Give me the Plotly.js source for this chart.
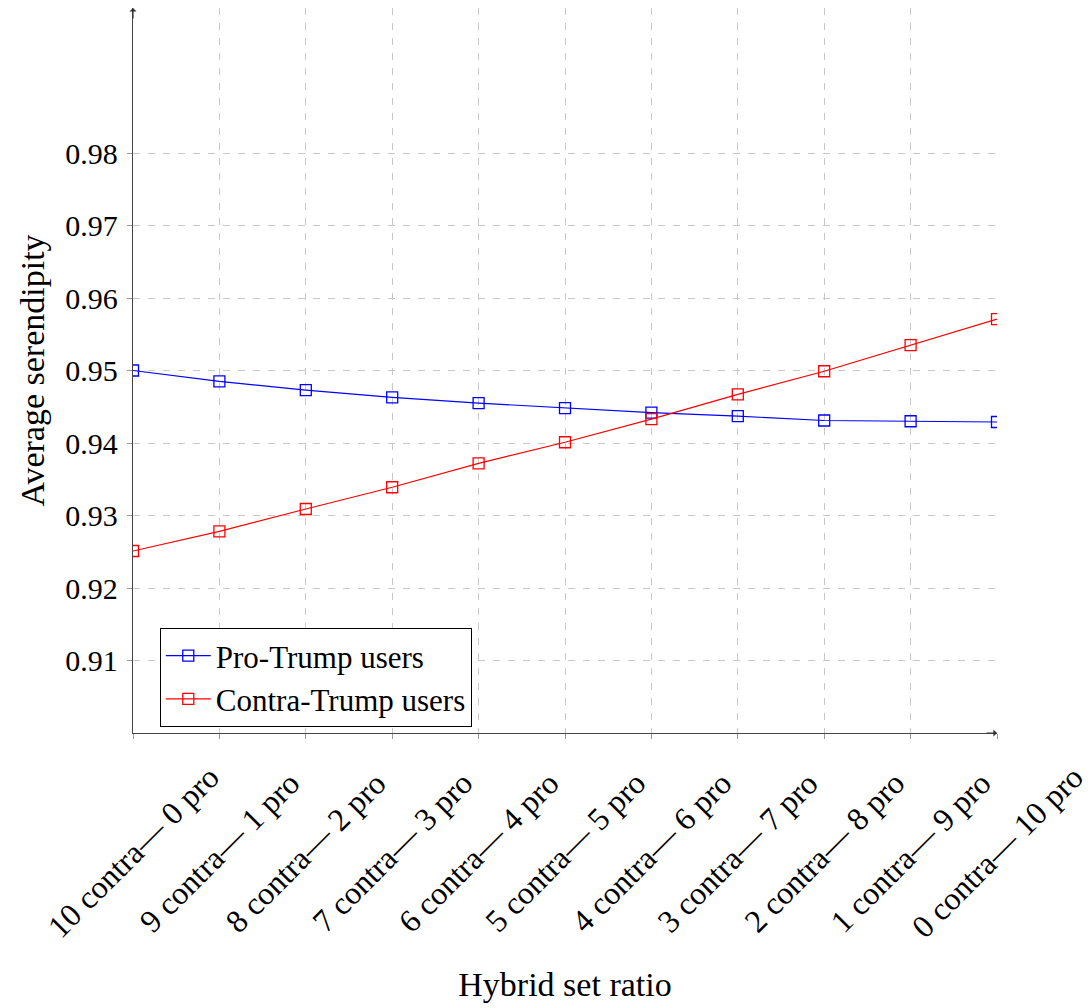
<!DOCTYPE html>
<html>
<head>
<meta charset="utf-8">
<script src="https://cdn.plot.ly/plotly-3.0.1.min.js"></script>
<style>html,body{margin:0;padding:0;background:#fff;}#chart{width:1091px;height:1008px;}</style>
</head>
<body>
<div id="chart"></div>
<script>
const categories = ["10 contra\u2014 0 pro","9 contra\u2014 1 pro","8 contra\u2014 2 pro","7 contra\u2014 3 pro","6 contra\u2014 4 pro","5 contra\u2014 5 pro","4 contra\u2014 6 pro","3 contra\u2014 7 pro","2 contra\u2014 8 pro","1 contra\u2014 9 pro","0 contra\u2014 10 pro"];
const proTrump = [0.9500, 0.9485, 0.9473, 0.9463, 0.9455, 0.9448, 0.9442, 0.9437, 0.9431, 0.9430, 0.9429];
const contraTrump = [0.9251, 0.9278, 0.9309, 0.9339, 0.9372, 0.9401, 0.9433, 0.9467, 0.9499, 0.9535, 0.9571];
const yTicks = [0.91, 0.92, 0.93, 0.94, 0.95, 0.96, 0.97, 0.98];
const yTickText = ["0.91","0.92","0.93","0.94","0.95","0.96","0.97","0.98"];

const FONT = "Liberation Serif, Times New Roman, serif";
const idx = categories.map((c, i) => i);

const traces = [
  {x: idx, y: proTrump, name: "Pro-Trump users", type: "scatter", mode: "lines+markers",
   line: {color: "#0000ff", width: 1.2}, marker: {symbol: "square-open", size: 11, color: "#0000ff", line: {width: 1.3}}},
  {x: idx, y: contraTrump, name: "Contra-Trump users", type: "scatter", mode: "lines+markers",
   line: {color: "#ff0000", width: 1.2}, marker: {symbol: "square-open", size: 11, color: "#ff0000", line: {width: 1.3}}}
];

const annotations = categories.map((c, i) => ({
  x: i, y: -0.164, xref: "x", yref: "paper", text: c, showarrow: false,
  textangle: -45, xanchor: "center", yanchor: "middle",
  font: {family: FONT, size: 32, color: "#000"}
}));
// axis arrows
annotations.push({x: 0, y: 1, xref: "paper", yref: "paper", ax: 0, ay: 12, axref: "pixel", ayref: "pixel",
  showarrow: true, arrowhead: 1, arrowsize: 1, arrowwidth: 1.2, arrowcolor: "#333", text: ""});
annotations.push({x: 1, y: 0, xref: "paper", yref: "paper", ax: -12, ay: 0, axref: "pixel", ayref: "pixel",
  showarrow: true, arrowhead: 1, arrowsize: 1, arrowwidth: 1.2, arrowcolor: "#333", text: ""});

const layout = {
  width: 1091, height: 1008,
  margin: {l: 133, r: 94, t: 8, b: 275},
  paper_bgcolor: "#fff", plot_bgcolor: "#fff",
  font: {family: FONT, size: 30, color: "#000"},
  showlegend: true,
  legend: {x: 0.031, y: 0.145, xanchor: "left", yanchor: "top",
    bordercolor: "#000", borderwidth: 1, bgcolor: "#fff",
    font: {family: FONT, size: 31, color: "#000"}, tracegroupgap: 0, itemwidth: 45},
  xaxis: {
    type: "linear", range: [0, 10], tickvals: idx, showticklabels: false,
    showgrid: true, gridcolor: "#c8c8c8", griddash: "7px,8px", gridwidth: 1,
    showline: true, linecolor: "#444", linewidth: 1.2,
    ticks: "outside", ticklen: 5, tickcolor: "#999", zeroline: false,
    title: {text: "Hybrid set ratio", font: {family: FONT, size: 34, color: "#000"}, standoff: 234}
  },
  yaxis: {
    range: [0.90, 1.0], tickvals: yTicks, ticktext: yTickText,
    showgrid: true, gridcolor: "#c8c8c8", griddash: "7px,8px", gridwidth: 1,
    showline: true, linecolor: "#444", linewidth: 1.2,
    ticks: "outside", ticklen: 5, tickcolor: "#999", zeroline: false,
    ticklabelstandoff: 3,
    tickfont: {family: FONT, size: 30, color: "#000"},
    title: {text: "Average serendipity", font: {family: FONT, size: 34, color: "#000"}, standoff: 10}
  },
  annotations: annotations
};

Plotly.newPlot("chart", traces, layout, {displayModeBar: false, staticPlot: true});
</script>
</body>
</html>
